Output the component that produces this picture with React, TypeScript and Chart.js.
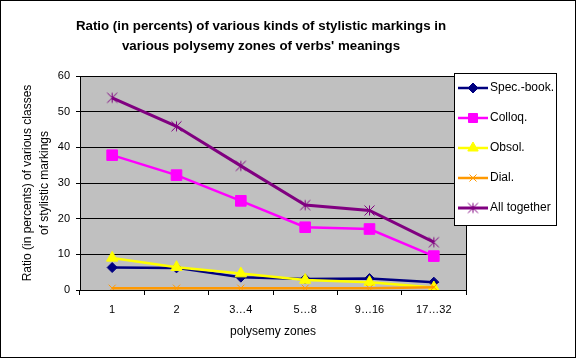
import React, { useEffect, useRef } from 'react';
import { Chart, registerables } from 'chart.js';

Chart.register(...registerables);

const titleLines = ['Ratio (in percents) of various kinds of stylistic markings in', "various polysemy zones of verbs' meanings"];
const categories = ['1', '2', '3…4', '5…8', '9…16', '17…32'];
const specBook = [6.3, 6.2, 3.6, 3.1, 3.2, 2.2];
const colloq = [37.8, 32.2, 25.0, 17.6, 17.1, 9.5];
const obsol = [9.0, 6.4, 4.6, 2.8, 2.2, 0.7];
const dial = [0.5, 0.5, 0.5, 0.5, 0.5, 0.8];
const allTogether = [53.9, 45.9, 34.8, 23.8, 22.3, 13.4];
const seriesNames = ['Spec.-book.', 'Colloq.', 'Obsol.', 'Dial.', 'All together'];
const yTicks = [0, 10, 20, 30, 40, 50, 60];
const yTitle = ['Ratio (in percents) of various classes', 'of stylistic markings'];
const xTitle = 'polysemy zones';

const FONT = "'Liberation Sans', Arial, sans-serif";

function makeAsterisk(color: string, r: number, lw: number) {
  const c = document.createElement('canvas');
  const s = Math.ceil(r * 2 + lw + 2);
  c.width = s;
  c.height = s;
  const g = c.getContext('2d')!;
  const m = s / 2;
  g.strokeStyle = color;
  g.lineWidth = lw;
  g.beginPath();
  g.moveTo(m - r, m - r); g.lineTo(m + r, m + r);
  g.moveTo(m - r, m + r); g.lineTo(m + r, m - r);
  g.moveTo(m, m - r); g.lineTo(m, m + r);
  g.stroke();
  return c;
}

export default function App() {
  const ref = useRef<HTMLCanvasElement>(null);
  useEffect(() => {
    document.body.style.margin = '0';
    const star = makeAsterisk('#800080', 5, 1);
    const styles = [
      { color: '#000080', point: 'rectRot' as any, radius: 5, pbw: 1, bw: 2.5 },
      { color: '#FF00FF', point: 'rect' as any, radius: 7.5, pbw: 1, bw: 2.5 },
      { color: '#FFFF00', point: 'triangle' as any, radius: 6.5, pbw: 1, bw: 2.5 },
      { color: '#FF9900', point: 'crossRot' as any, radius: 5, pbw: 1, bw: 2.5 },
      { color: '#800080', point: star as any, radius: 5, pbw: 1, bw: 3 },
    ];
    const values = [specBook, colloq, obsol, dial, allTogether];
    const datasets = values.map((v, i) => ({
      label: seriesNames[i],
      data: v,
      borderColor: styles[i].color,
      backgroundColor: styles[i].color,
      borderWidth: styles[i].bw,
      pointStyle: styles[i].point,
      pointRadius: styles[i].radius,
      pointBorderWidth: styles[i].pbw,
      pointBorderColor: styles[i].color,
      pointBackgroundColor: styles[i].color,
      tension: 0,
      order: 5 - i,
    }));

    const decor = {
      id: 'decor',
      beforeDraw(chart: any) {
        const { ctx, chartArea: a, width, height } = chart;
        ctx.save();
        ctx.fillStyle = '#ffffff';
        ctx.fillRect(0, 0, width, height);
        ctx.fillStyle = '#C0C0C0';
        ctx.fillRect(a.left, a.top, a.right - a.left, a.bottom - a.top);
        ctx.restore();
      },
      afterDraw(chart: any) {
        const { ctx, chartArea: a, width, height } = chart;
        ctx.save();
        ctx.strokeStyle = '#000';
        ctx.lineWidth = 1;
        ctx.beginPath();
        ctx.moveTo(Math.round(a.right) + 0.5, a.top);
        ctx.lineTo(Math.round(a.right) + 0.5, a.bottom);
        ctx.stroke();
        // title
        ctx.fillStyle = '#000';
        ctx.font = `bold 13.3px ${FONT}`;
        ctx.textAlign = 'center';
        ctx.textBaseline = 'middle';
        titleLines.forEach((t, i) => ctx.fillText(t, 261, 26.5 + i * 20));
        // legend
        const lx = 454, ly = 73, lw = 102, lh = 152;
        ctx.fillStyle = '#fff';
        ctx.fillRect(lx, ly, lw, lh);
        ctx.strokeRect(lx + 0.5, ly + 0.5, lw, lh);
        ctx.font = `12px ${FONT}`;
        ctx.textAlign = 'left';
        chart.data.datasets.forEach((ds: any, i: number) => {
          const y = 88 + i * 30;
          ctx.strokeStyle = ds.borderColor;
          ctx.lineWidth = ds.borderWidth;
          ctx.beginPath();
          ctx.moveTo(458, y);
          ctx.lineTo(488, y);
          ctx.stroke();
          const st = ds.pointStyle;
          const r = Math.min(ds.pointRadius, 6);
          ctx.fillStyle = ds.pointBackgroundColor;
          ctx.strokeStyle = ds.pointBorderColor;
          ctx.lineWidth = 1;
          const x = 473;
          if (typeof st !== 'string') {
            ctx.drawImage(st, x - st.width / 2, y - st.height / 2);
          } else {
            ctx.beginPath();
            if (st === 'rectRot') {
              ctx.moveTo(x - r, y); ctx.lineTo(x, y - r); ctx.lineTo(x + r, y); ctx.lineTo(x, y + r); ctx.closePath();
              ctx.fill(); ctx.stroke();
            } else if (st === 'rect') {
              const s = r * 0.75;
              ctx.rect(x - s, y - s, 2 * s, 2 * s); ctx.fill(); ctx.stroke();
            } else if (st === 'triangle') {
              ctx.moveTo(x, y - r); ctx.lineTo(x + r * 0.866, y + r / 2); ctx.lineTo(x - r * 0.866, y + r / 2); ctx.closePath();
              ctx.fill(); ctx.stroke();
            } else if (st === 'crossRot') {
              const s = r * 0.707;
              ctx.moveTo(x - s, y - s); ctx.lineTo(x + s, y + s);
              ctx.moveTo(x - s, y + s); ctx.lineTo(x + s, y - s); ctx.stroke();
            }
          }
          ctx.fillStyle = '#000';
          ctx.fillText(ds.label, 490, y);
        });
        // outer border
        ctx.strokeStyle = '#000';
        ctx.lineWidth = 1;
        ctx.strokeRect(0.5, 0.5, width - 1, height - 1);
        ctx.restore();
      },
    };

    const chart = new Chart(ref.current!, {
      type: 'line',
      data: { labels: categories, datasets },
      plugins: [decor],
      options: {
        animation: false,
        responsive: false,
        layout: { padding: { top: 76, right: 110, bottom: 0, left: 0 } },
        plugins: { legend: { display: false }, tooltip: { enabled: false }, title: { display: false } },
        scales: {
          x: {
            type: 'category',
            offset: true,
            grid: { offset: true, drawOnChartArea: false, drawTicks: true, tickLength: 5, color: '#000', lineWidth: 1 },
            border: { display: true, color: '#000', width: 1 },
            ticks: { color: '#000', font: { family: FONT, size: 11 }, padding: 8, maxRotation: 0, autoSkip: false },
            title: { display: true, text: xTitle, color: '#000', font: { family: FONT, size: 12 }, padding: { top: 0, bottom: 19 } },
            afterFit(scale: any) { scale.height = 68; },
          },
          y: {
            min: 0,
            max: 60,
            afterBuildTicks(scale: any) { scale.ticks = yTicks.map((v) => ({ value: v })); },
            grid: { color: '#000', lineWidth: 1, drawTicks: true, tickLength: 4 },
            border: { display: true, color: '#000', width: 1 },
            ticks: { color: '#000', font: { family: FONT, size: 11 }, padding: 6 },
            title: { display: true, text: yTitle, color: '#000', font: { family: FONT, size: 12, lineHeight: 1.4 }, padding: { top: 19, bottom: 0 } },
            afterFit(scale: any) { scale.width = 80; },
          },
        },
      },
    });
    return () => chart.destroy();
  }, []);
  return <canvas ref={ref} width={576} height={358} style={{ display: 'block' }} />;
}
